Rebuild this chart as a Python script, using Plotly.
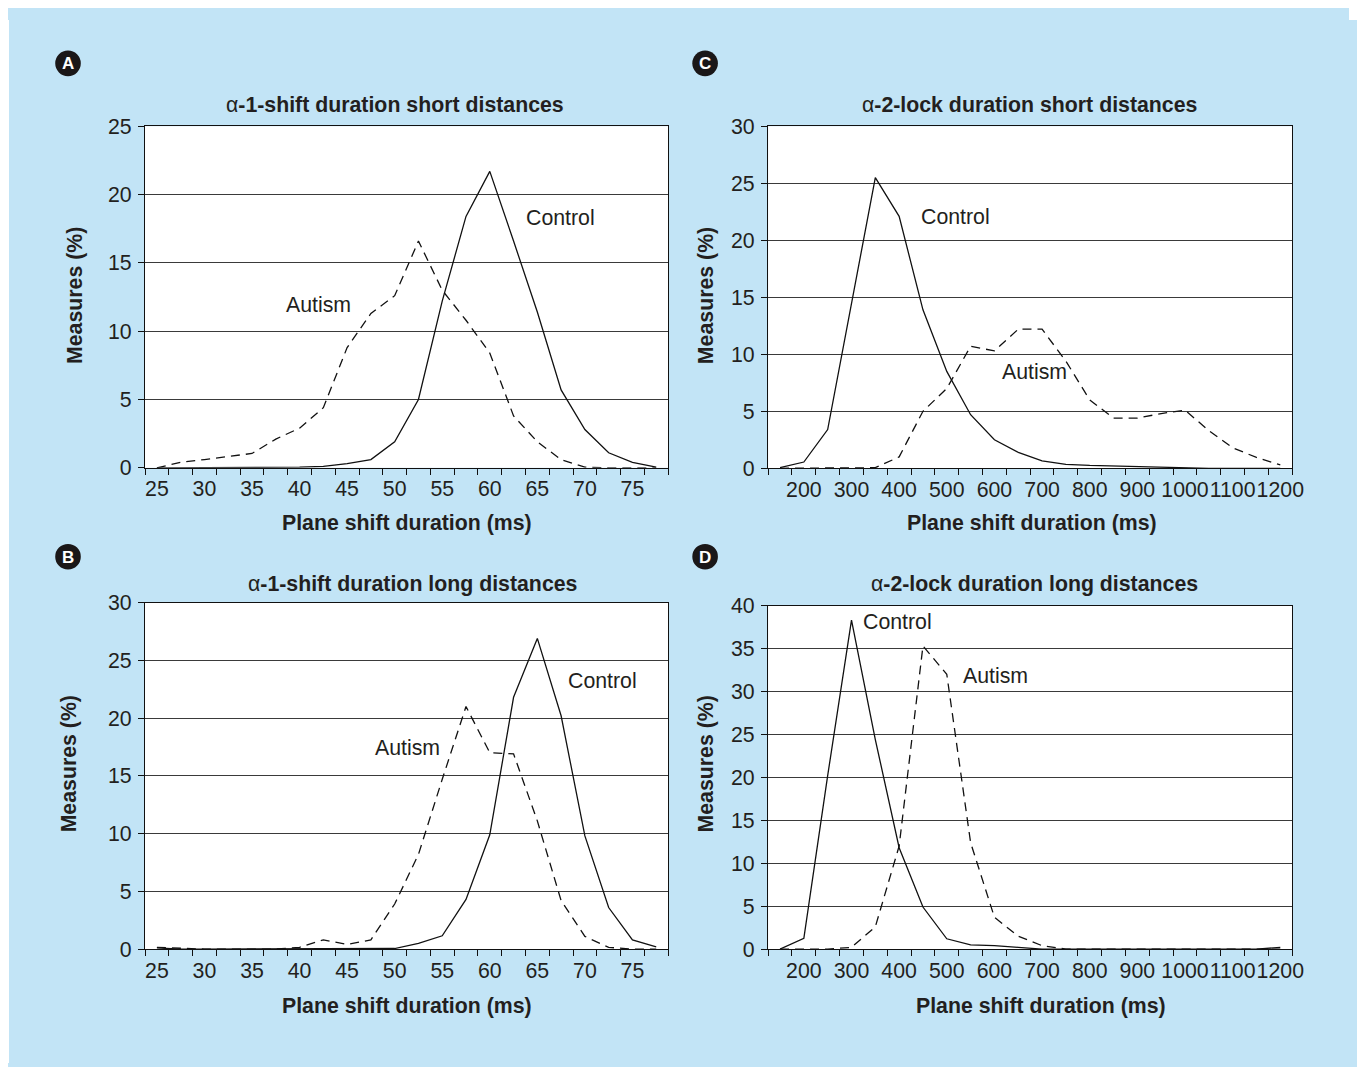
import plotly.graph_objects as go

# ---------------- data ----------------
shift_ms = [25, 27.5, 30, 32.5, 35, 37.5, 40, 42.5, 45, 47.5, 50, 52.5,
            55, 57.5, 60, 62.5, 65, 67.5, 70, 72.5, 75, 77.5]
lock_ms = [150, 200, 250, 300, 350, 400, 450, 500, 550, 600, 650, 700,
           750, 800, 850, 900, 950, 1000, 1050, 1100, 1150, 1200]

shift_ticks = [25, 30, 35, 40, 45, 50, 55, 60, 65, 70, 75]
lock_ticks = [200, 300, 400, 500, 600, 700, 800, 900, 1000, 1100, 1200]

# A: alpha-1-shift duration short distances
a_control = [0, 0, 0, 0, 0, 0, 0.05, 0.1, 0.3, 0.6, 1.9, 5.0,
             12.2, 18.4, 21.7, 16.6, 11.4, 5.7, 2.8, 1.1, 0.4, 0.05]
a_autism = [0, 0.4, 0.6, 0.8, 1.05, 2.1, 2.9, 4.4, 8.8, 11.3, 12.6, 16.6,
            13.0, 10.8, 8.4, 3.8, 1.9, 0.6, 0.05, 0, 0, 0]

# B: alpha-1-shift duration long distances
b_control = [0.1, 0, 0, 0, 0, 0, 0, 0, 0, 0, 0.05, 0.5,
             1.15, 4.3, 9.9, 21.8, 26.9, 20.2, 9.8, 3.6, 0.8, 0.2]
b_autism = [0.15, 0.05, 0, 0, 0, 0, 0.15, 0.8, 0.4, 0.8, 3.9, 8.2,
            14.7, 21.0, 17.0, 16.9, 11.1, 4.2, 1.1, 0.15, 0, 0]

# C: alpha-2-lock duration short distances
c_control = [0.05, 0.55, 3.4, 14.5, 25.5, 22.1, 13.9, 8.5, 4.7, 2.5, 1.4, 0.65,
             0.35, 0.25, 0.2, 0.1, 0.05, 0, 0, 0, 0, 0]
c_autism = [0, 0, 0, 0, 0.05, 1.0, 5.0, 7.0, 10.7, 10.3, 12.2, 12.2,
            9.4, 6.0, 4.4, 4.4, 4.8, 5.1, 3.3, 1.8, 0.95, 0.3]

# D: alpha-2-lock duration long distances
d_control = [0, 1.25, 20.2, 38.3, 24.4, 11.8, 4.9, 1.2, 0.5, 0.4, 0.2, 0,
             0, 0, 0, 0, 0, 0, 0, 0, 0, 0.2]
d_autism = [0, 0, 0, 0.2, 2.6, 12.0, 35.3, 32.0, 12.4, 3.7, 1.5, 0.4,
            0, 0, 0, 0, 0, 0, 0, 0, 0, 0]

titles = ["\u03b1<b>-1-shift duration short distances</b>",
          "\u03b1<b>-2-lock duration short distances</b>",
          "\u03b1<b>-1-shift duration long distances</b>",
          "\u03b1<b>-2-lock duration long distances</b>"]

# ---------------- layout helpers ----------------
W, H = 1357, 1067
FONT = "Liberation Sans, Arial, Helvetica, sans-serif"
TXT = "#231f20"
BLUE = "#c2e4f6"
FS = 21.3

# page placement of the figure (body margin / page fit) compensation
SX, OX = 0.991, 8.0
SY, OY = 0.9789, 20.0


def px(x):
    return min(max(((x - OX) / SX) / W, 0.0), 1.0)


def py(y):
    return min(max(1 - (y / SY - OY) / H, 0.0), 1.0)


fig = go.Figure()

panels = [
    ("x", "y", shift_ms, shift_ticks, a_control, a_autism, 25, (145, 668), (126, 468)),
    ("x2", "y2", lock_ms, lock_ticks, c_control, c_autism, 30, (768, 1292), (126, 468.5)),
    ("x3", "y3", shift_ms, shift_ticks, b_control, b_autism, 30, (145, 668), (603, 950)),
    ("x4", "y4", lock_ms, lock_ticks, d_control, d_autism, 40, (768, 1292), (606, 950)),
]

shapes = []
# white strip left of the blue panel (paper itself is blue)
shapes.append(dict(type="rect", xref="paper", yref="paper", layer="below",
                   x0=0.0, x1=px(9), y0=0.0, y1=1.0,
                   fillcolor="white", line=dict(width=0)))

layout_axes = {}
for k, (xa, ya, xs, xt, ctrl, aut, ymax, dx, dy) in enumerate(panels):
    fig.add_trace(go.Scatter(x=xs, y=ctrl, mode="lines", xaxis=xa, yaxis=ya,
                             line=dict(color="#111111", width=1.3), showlegend=False,
                             name="Control"))
    fig.add_trace(go.Scatter(x=xs, y=aut, mode="lines", xaxis=xa, yaxis=ya,
                             line=dict(color="#111111", width=1.3, dash="9px,6px"),
                             showlegend=False, name="Autism"))
    step = xs[1] - xs[0]
    x_lo = xs[0] - step / 2
    x_hi = xs[-1] + step / 2
    xkey = "xaxis" if xa == "x" else "xaxis" + xa[1:]
    ykey = "yaxis" if ya == "y" else "yaxis" + ya[1:]
    layout_axes[xkey] = dict(
        domain=[px(dx[0]), px(dx[1])], anchor=ya, range=[x_lo, x_hi],
        tickmode="array", tickvals=xt, ticktext=[str(v) for v in xt],
        ticks="outside", ticklen=2, tickcolor="rgba(0,0,0,0)", tickangle=0,
        showgrid=False, zeroline=False,
        showline=True, mirror=True, linecolor="#111111", linewidth=1.3,
        tickfont=dict(family=FONT, size=FS, color=TXT),
        minor=dict(tick0=x_lo, dtick=step, ticks="outside", ticklen=6,
                   tickcolor="#111111", tickwidth=1, showgrid=False),
        fixedrange=True,
    )
    layout_axes[ykey] = dict(
        domain=[py(dy[1]), py(dy[0])], anchor=xa, range=[0, ymax],
        tickmode="linear", tick0=0, dtick=5,
        ticks="outside", ticklen=6, tickcolor="#111111", tickwidth=1,
        showgrid=True, gridcolor="#3a3a3a", gridwidth=1.2,
        zeroline=False, showline=True, mirror=True, linecolor="#111111", linewidth=1.3,
        tickfont=dict(family=FONT, size=FS, color=TXT),
        ticklabelstandoff=2,
        fixedrange=True,
    )

fig.update_layout(**layout_axes)

annotations = []


def ann(text, x, y, size=FS, angle=0, color=TXT):
    annotations.append(dict(text=text, x=px(x), y=py(y), xref="paper", yref="paper",
                            showarrow=False, xanchor="center", yanchor="middle",
                            textangle=angle,
                            font=dict(family=FONT, size=size, color=color)))


# titles
ann(titles[0], 395, 105)
ann(titles[1], 1029, 105)
ann(titles[2], 412, 584)
ann(titles[3], 1034, 584)

# axis titles
for (x, y) in [(407, 523), (1032, 523), (407, 1007), (1041, 1007)]:
    ann("<b>Plane shift duration (ms)</b>", x, y)
for (x, y) in [(75, 296), (706, 296), (69, 765), (706, 765)]:
    ann("<b>Measures (%)</b>", x, y, angle=-90)

# curve labels
ann("Control", 560, 218)
ann("Autism", 318, 305)
ann("Control", 955, 217)
ann("Autism", 1034, 372)
ann("Control", 602, 682)
ann("Autism", 407, 749)
ann("Control", 897, 622)
ann("Autism", 995, 677)

# panel letter badges
for letter, (cx, cy) in zip(["A", "C", "B", "D"], [(68, 63), (705, 63), (68, 557), (705, 557)]):
    r = 12.8
    shapes.append(dict(type="circle", xref="paper", yref="paper",
                       x0=px(cx - r), x1=px(cx + r), y0=py(cy + r), y1=py(cy - r),
                       fillcolor="#1a1718", line=dict(width=0)))
    ann("<b>" + letter + "</b>", cx, cy + 0.5, size=17, color="white")

fig.update_layout(
    width=W, height=H,
    margin=dict(l=0, r=0, t=0, b=0),
    paper_bgcolor=BLUE, plot_bgcolor="white",
    shapes=shapes, annotations=annotations,
    showlegend=False,
)

page_bg = (
    "var r=document.documentElement.style;"
    "r.backgroundColor='" + BLUE + "';"
    "r.backgroundImage='linear-gradient(to right, #ffffff 9px, rgba(255,255,255,0) 9px),"
    "linear-gradient(to bottom, #ffffff 20px, rgba(255,255,255,0) 20px)';"
    "r.backgroundRepeat='no-repeat';"
)

fig.write_html("out.html", post_script=page_bg)
